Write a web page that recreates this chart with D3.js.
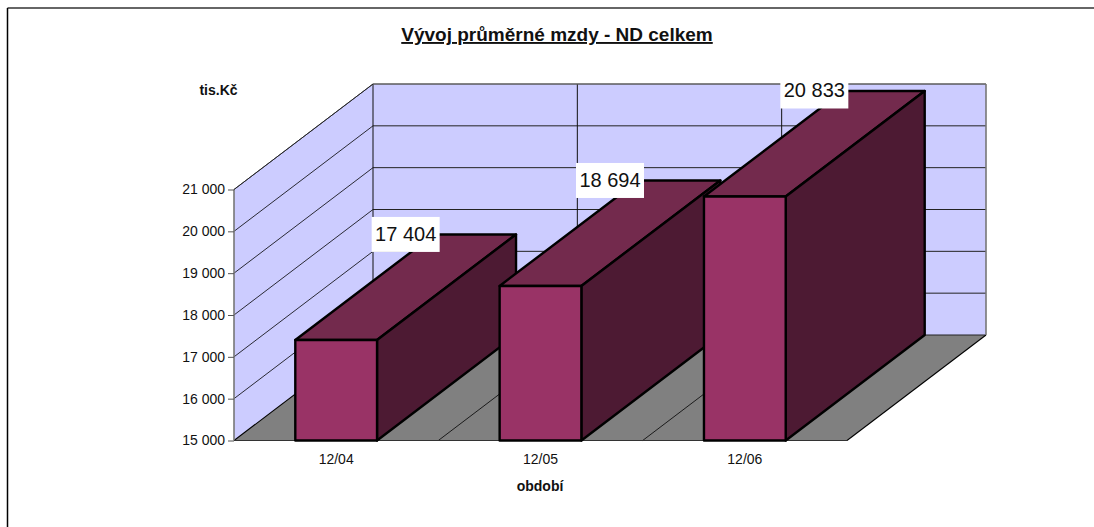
<!DOCTYPE html>
<html>
<head>
<meta charset="utf-8">
<title>Vývoj průměrné mzdy</title>
<style>
  html, body { margin: 0; padding: 0; background: #fff; overflow: hidden; }
  text { font-family: "Liberation Sans", Arial, sans-serif; fill: #111; }
  .y-axis text, .x-axis text { font-size: 14px; }
  .axis-title { font-size: 14px; font-weight: bold; }
</style>
<script src="https://cdn.jsdelivr.net/npm/d3@7"></script>
</head>
<body>
<script>
const categories = ["12/04", "12/05", "12/06"];
const values = [17404, 18694, 20833];
const yTicks = [15000, 16000, 17000, 18000, 19000, 20000, 21000];
const chartTitle = "Vývoj průměrné mzdy - ND celkem";
const yTitle = "tis.Kč";
const xTitle = "období";

const width = 1094, height = 527;
const plot = { left: 234, right: 847, top: 189.5, bottom: 440.5 };
// depth of the 3d box, the bars use the same depth
const depth = { x: 139, y: -105.5 };

const svg = d3.select("body").append("svg")
  .attr("width", width)
  .attr("height", height)
  .style("display", "block");

const yScale = d3.scaleLinear().domain([15000, 21000]).range([plot.bottom, plot.top]);
const xScale = d3.scaleBand().domain(categories).range([plot.left, plot.right])
  .paddingInner(0.6).paddingOuter(0.3);
const step = xScale.step();
const fmt = d3.formatLocale({ decimal: ",", thousands: " ", grouping: [3], currency: ["", ""] }).format(",d");

const poly = (pts, fill, stroke, sw) => svg.append("path")
  .attr("d", d3.line()(pts) + "Z")
  .attr("fill", fill)
  .attr("stroke", stroke)
  .attr("stroke-width", sw)
  .attr("stroke-linejoin", "round");
const seg = (a, b, stroke, sw) => svg.append("line")
  .attr("x1", a[0]).attr("y1", a[1]).attr("x2", b[0]).attr("y2", b[1])
  .attr("stroke", stroke).attr("stroke-width", sw);
const back = p => [p[0] + depth.x, p[1] + depth.y];

// page frame, only top and left are visible
seg([7.5, 8], [width, 8], "#333", 1.5);
seg([7.5, 8], [7.5, height], "#000", 1.5);

// walls and floor
const fl = [plot.left, plot.bottom], fr = [plot.right, plot.bottom], ft = [plot.left, plot.top];
poly([back(fl), back(ft), [back(fr)[0], back(ft)[1]], back(fr)], "#ccccff", "none", 0);
poly([fl, ft, back(ft), back(fl)], "#ccccff", "none", 0);
poly([fl, fr, back(fr), back(fl)], "#808080", "none", 0);

// horizontal gridlines run along the left wall and across the back wall
yTicks.forEach(t => {
  const p = [plot.left, yScale(t)];
  if (t > 15000) seg(p, back(p), "#000", 0.8);
  seg(back(p), [back(fr)[0], back(p)[1]], "#222", 1);
});

// category separators on the floor and back wall
d3.range(0, categories.length + 1).forEach(i => {
  const x = plot.left + i * step;
  const p = [x, plot.bottom];
  seg(p, back(p), "#000", i == 0 || i == categories.length ? 1.1 : 0.8);
  if (i < categories.length) seg(back(p), [back(p)[0], back(ft)[1]], "#111", 1);
});

// borders
seg(ft, fl, "#777", 1.6);
seg(fl, fr, "#333", 1);
seg(back(ft), [back(fr)[0], back(ft)[1]], "#777", 1);
seg([back(fr)[0], back(ft)[1]], back(fr), "#777", 1.6);
seg(ft, back(ft), "#222", 0.8);

// bars
categories.forEach((c, i) => {
  const x0 = xScale(c), x1 = x0 + xScale.bandwidth();
  const y1 = yScale(values[i]);
  const a = [x0, y1], b = [x1, y1], d = [x1, plot.bottom];
  poly([a, b, back(b), back(a)], "#732a4d", "#000", 2.4);
  poly([b, d, back(d), back(b)], "#4d1a33", "#000", 2.4);
  poly([a, b, d, [x0, plot.bottom]], "#993366", "#000", 2.4);
});

// value labels sit on the top face, white box behind them
categories.forEach((c, i) => {
  const cx = xScale(c) + xScale.bandwidth() / 2 + depth.x / 2;
  const cy = yScale(values[i]) + depth.y;
  svg.append("rect")
    .attr("x", cx - 34).attr("y", cy - 17.5)
    .attr("width", 68).attr("height", 35)
    .attr("fill", "#fff");
  svg.append("text")
    .attr("x", cx).attr("y", cy + 6.5)
    .attr("text-anchor", "middle")
    .style("font-size", "20px")
    .text(fmt(values[i]));
});

// axes
const yAxis = svg.append("g")
  .attr("class", "y-axis")
  .attr("transform", `translate(${plot.left},0)`)
  .call(d3.axisLeft(yScale).tickValues(yTicks).tickFormat(fmt).tickSize(6).tickSizeOuter(0));
yAxis.select(".domain").remove();
yAxis.selectAll("line").attr("stroke", "#555");
yAxis.selectAll("text").attr("x", -9).attr("fill", "#111");

const xAxis = svg.append("g")
  .attr("class", "x-axis")
  .attr("transform", `translate(0,${plot.bottom})`)
  .call(d3.axisBottom(xScale).tickSize(0));
xAxis.select(".domain").remove();
xAxis.selectAll("text").attr("y", 14).attr("fill", "#111");

// titles
svg.append("text")
  .attr("x", 557).attr("y", 41)
  .attr("text-anchor", "middle")
  .style("font-size", "19px").style("font-weight", "bold")
  .style("text-decoration", "underline")
  .text(chartTitle);
svg.append("text").attr("class", "axis-title")
  .attr("x", 218.5).attr("y", 95)
  .attr("text-anchor", "middle")
  .text(yTitle);
svg.append("text").attr("class", "axis-title")
  .attr("x", 540).attr("y", 491)
  .attr("text-anchor", "middle")
  .text(xTitle);
</script>
</body>
</html>
